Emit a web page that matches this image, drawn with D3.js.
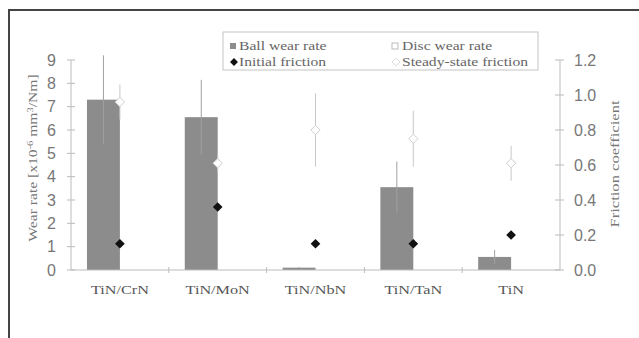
<!DOCTYPE html>
<html>
<head>
<meta charset="utf-8">
<script src="https://cdn.jsdelivr.net/npm/d3@7"></script>
<style>
  body { margin: 0; background: #fff; }
  svg { display: block; }
</style>
</head>
<body>
<div id="chart"></div>
<script>
const coatings = ["TiN/CrN", "TiN/MoN", "TiN/NbN", "TiN/TaN", "TiN"];
const ballWear = [7.3, 6.55, 0.1, 3.55, 0.56];
const ballWearErr = [1.9, 1.6, 0.02, 1.1, 0.3];
const discWear = [0, 0, 0, 0, 0];
const initialFriction = [0.15, 0.36, 0.15, 0.15, 0.2];
const steadyFriction = [0.96, 0.61, 0.8, 0.75, 0.61];
const steadyFrictionErr = [0.1, 0.05, 0.21, 0.16, 0.1];
const wearTicks = [0, 1, 2, 3, 4, 5, 6, 7, 8, 9];
const frictionTicks = [0, 0.2, 0.4, 0.6, 0.8, 1.0, 1.2];

const width = 639, height = 338;
const plotLeft = 71, plotRight = 560, plotTop = 60, plotBottom = 270;

const svg = d3.select("#chart")
    .append("svg")
    .attr("width", width)
    .attr("height", height);

// scanned figure text is wider than the installed fonts, stretch it a bit
function widen(sel, k) {
    sel.each(function () {
        const len = this.getComputedTextLength();
        d3.select(this)
            .attr("textLength", len * k)
            .attr("lengthAdjust", "spacingAndGlyphs");
    });
}

// outer frame (only top and left show)
svg.append("path")
    .attr("d", `M9,338 V10 H639`)
    .attr("fill", "none")
    .attr("stroke", "#444")
    .attr("stroke-width", 2);

const x0 = d3.scaleBand().domain(coatings).range([plotLeft, plotRight]).padding(0);
const x1 = d3.scaleBand().domain(["ball", "disc"])
    .range([0, x0.bandwidth()])
    .paddingInner(0)
    .paddingOuter(0.485);
const yWear = d3.scaleLinear().domain([0, 9]).range([plotBottom, plotTop]);
const yFric = d3.scaleLinear().domain([0, 1.2]).range([plotBottom, plotTop]);

const axisColor = "#bbb";
const tickText = "#777";

// bars
svg.selectAll(".ball")
    .data(coatings)
    .enter()
    .append("rect")
    .attr("x", d => x0(d) + x1("ball"))
    .attr("width", x1.bandwidth())
    .attr("y", (d, i) => yWear(ballWear[i]))
    .attr("height", (d, i) => yWear(0) - yWear(ballWear[i]))
    .attr("fill", "#8c8c8c");

svg.selectAll(".disc")
    .data(coatings)
    .enter()
    .append("rect")
    .attr("x", d => x0(d) + x1("disc"))
    .attr("width", x1.bandwidth())
    .attr("y", (d, i) => yWear(discWear[i]))
    .attr("height", (d, i) => yWear(0) - yWear(discWear[i]))
    .attr("fill", "#fff")
    .attr("stroke", "#aaa");

// ball wear error bars
svg.selectAll(".ballErr")
    .data(coatings)
    .enter()
    .append("line")
    .attr("x1", d => x0(d) + x1("ball") + x1.bandwidth() / 2)
    .attr("x2", d => x0(d) + x1("ball") + x1.bandwidth() / 2)
    .attr("y1", (d, i) => yWear(ballWear[i] + ballWearErr[i]))
    .attr("y2", (d, i) => yWear(ballWear[i] - ballWearErr[i]))
    .attr("stroke", "#a0a0a0")
    .attr("stroke-width", 1);

// x axis
svg.append("line")
    .attr("x1", plotLeft).attr("x2", plotRight)
    .attr("y1", plotBottom).attr("y2", plotBottom)
    .attr("stroke", axisColor);

svg.selectAll(".xtick")
    .data(coatings.slice(1))
    .enter()
    .append("line")
    .attr("x1", d => x0(d)).attr("x2", d => x0(d))
    .attr("y1", plotBottom - 3).attr("y2", plotBottom + 3)
    .attr("stroke", axisColor);

svg.selectAll(".xlabel")
    .data(coatings)
    .enter()
    .append("text")
    .attr("x", d => x0(d) + x0.bandwidth() / 2)
    .attr("y", plotBottom + 24)
    .attr("text-anchor", "middle")
    .style("font-family", "Liberation Serif, serif")
    .style("font-size", "12px")
    .style("fill", "#555")
    .text(d => d)
    .call(widen, 1.35);

// left axis
svg.append("line")
    .attr("x1", plotLeft).attr("x2", plotLeft)
    .attr("y1", plotTop).attr("y2", plotBottom)
    .attr("stroke", axisColor);

svg.selectAll(".ltick")
    .data(wearTicks)
    .enter()
    .append("line")
    .attr("x1", plotLeft - 4).attr("x2", plotLeft + 4)
    .attr("y1", d => yWear(d)).attr("y2", d => yWear(d))
    .attr("stroke", axisColor);

svg.selectAll(".llabel")
    .data(wearTicks)
    .enter()
    .append("text")
    .attr("x", plotLeft - 15)
    .attr("y", d => yWear(d))
    .attr("dy", "0.36em")
    .attr("text-anchor", "end")
    .style("font-family", "Liberation Sans, Arial, sans-serif")
    .style("font-size", "16px")
    .style("fill", tickText)
    .text(d => d);

const yLabel = svg.append("text")
    .attr("transform", "translate(37,158) rotate(-90)")
    .attr("text-anchor", "middle")
    .style("font-family", "Liberation Serif, serif")
    .style("font-size", "12px")
    .style("fill", "#777");
yLabel.append("tspan").text("Wear rate [x10");
yLabel.append("tspan").attr("dy", "-4").style("font-size", "8px").text("-6");
yLabel.append("tspan").attr("dy", "4").text(" mm");
yLabel.append("tspan").attr("dy", "-4").style("font-size", "8px").text("3");
yLabel.append("tspan").attr("dy", "4").text("/Nm]");
yLabel.call(widen, 1.3);

// right axis
svg.append("line")
    .attr("x1", plotRight).attr("x2", plotRight)
    .attr("y1", plotTop).attr("y2", plotBottom)
    .attr("stroke", axisColor);

svg.selectAll(".rtick")
    .data(frictionTicks)
    .enter()
    .append("line")
    .attr("x1", plotRight - 5).attr("x2", plotRight + 4)
    .attr("y1", d => yFric(d)).attr("y2", d => yFric(d))
    .attr("stroke", axisColor);

svg.selectAll(".rlabel")
    .data(frictionTicks)
    .enter()
    .append("text")
    .attr("x", plotRight + 14)
    .attr("y", d => yFric(d))
    .attr("dy", "0.36em")
    .attr("text-anchor", "start")
    .style("font-family", "Liberation Sans, Arial, sans-serif")
    .style("font-size", "16px")
    .style("fill", tickText)
    .text(d => d.toFixed(1));

svg.append("text")
    .attr("transform", "translate(619,164) rotate(-90)")
    .attr("text-anchor", "middle")
    .style("font-family", "Liberation Serif, serif")
    .style("font-size", "12px")
    .style("fill", "#777")
    .text("Friction coefficient")
    .call(widen, 1.38);

// friction markers
const diamond = d3.symbol().type(d3.symbolDiamond2);
const markerX = d => x0(d) + x0.bandwidth() / 2;

svg.selectAll(".steadyErr")
    .data(coatings)
    .enter()
    .append("line")
    .attr("x1", markerX).attr("x2", markerX)
    .attr("y1", (d, i) => yFric(steadyFriction[i] + steadyFrictionErr[i]))
    .attr("y2", (d, i) => yFric(steadyFriction[i] - steadyFrictionErr[i]))
    .attr("stroke", "#c8c8c8");

svg.selectAll(".steady")
    .data(coatings)
    .enter()
    .append("path")
    .attr("d", diamond.size(55)())
    .attr("transform", (d, i) => `translate(${markerX(d)},${yFric(steadyFriction[i])})`)
    .attr("fill", "#fff")
    .attr("stroke", "#d0d0d0");

svg.selectAll(".initial")
    .data(coatings)
    .enter()
    .append("path")
    .attr("d", diamond.size(60)())
    .attr("transform", (d, i) => `translate(${markerX(d)},${yFric(initialFriction[i])})`)
    .attr("fill", "#111");

// legend
const legend = svg.append("g");
legend.append("rect")
    .attr("x", 223).attr("y", 32)
    .attr("width", 315).attr("height", 38)
    .attr("fill", "#fff")
    .attr("stroke", "#c4c4c4");

const legendFont = g => g
    .style("font-family", "Liberation Serif, serif")
    .style("font-size", "12px")
    .style("fill", "#666");

legend.append("rect").attr("x", 230).attr("y", 43).attr("width", 6).attr("height", 6).attr("fill", "#8c8c8c");
legend.append("text").attr("x", 239).attr("y", 50).call(legendFont).text("Ball wear rate").call(widen, 1.3);

legend.append("rect").attr("x", 392).attr("y", 43).attr("width", 6).attr("height", 6)
    .attr("fill", "#fff").attr("stroke", "#bbb");
legend.append("text").attr("x", 402).attr("y", 50).call(legendFont).text("Disc wear rate").call(widen, 1.3);

legend.append("path").attr("d", diamond.size(40)())
    .attr("transform", "translate(234,62)").attr("fill", "#111");
legend.append("text").attr("x", 239).attr("y", 66).call(legendFont).text("Initial friction").call(widen, 1.3);

legend.append("path").attr("d", diamond.size(40)())
    .attr("transform", "translate(396,62)").attr("fill", "#fff").attr("stroke", "#ddd");
legend.append("text").attr("x", 402).attr("y", 66).call(legendFont).text("Steady-state friction").call(widen, 1.3);
</script>
</body>
</html>
